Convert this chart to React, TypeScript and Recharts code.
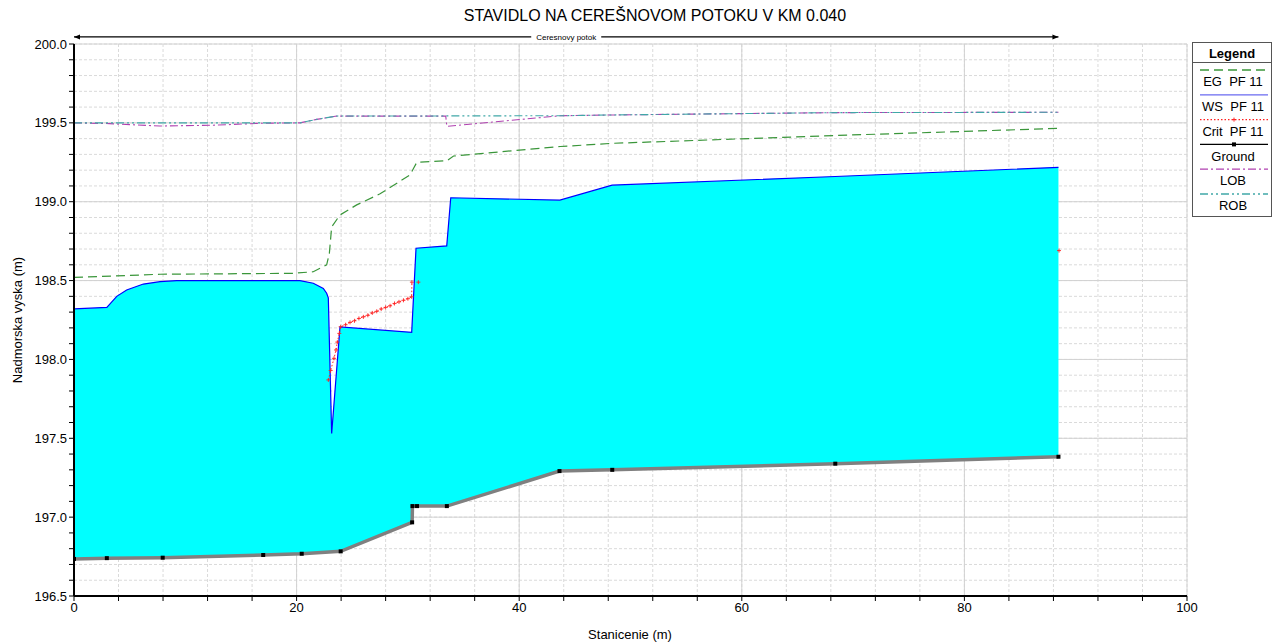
import React from 'react';
import {
  ComposedChart, Area, Line, XAxis, YAxis, CartesianGrid, ReferenceLine,
} from 'recharts';

// station (m), elevation (m)
const GROUND: [number, number][] = [
  [0, 196.735], [2.95, 196.74], [7.97, 196.743], [17.0, 196.76], [20.46, 196.768],
  [23.96, 196.783], [30.38, 196.967], [30.41, 197.07], [30.82, 197.07], [33.5, 197.07],
  [43.62, 197.292], [48.36, 197.3], [68.4, 197.339], [88.45, 197.383],
];

const WS: [number, number][] = [
  [0, 198.32], [2.95, 198.33], [3.84, 198.4], [4.73, 198.44], [6.23, 198.478], [7.73, 198.493],
  [9.23, 198.5], [20.3, 198.5], [21.5, 198.483], [22.4, 198.45], [22.7, 198.42], [22.85, 198.39],
  [23.15, 197.53], [23.9, 198.207], [30.34, 198.172], [30.73, 198.705], [33.49, 198.72],
  [33.85, 199.025], [43.65, 199.01], [48.35, 199.105], [68.4, 199.16], [88.45, 199.218],
];

// station, ground, water surface -> cyan wetted area
const FILL: [number, number, number][] = [
  [0, 196.735, 198.32], [2.95, 196.74, 198.33], [3.84, 196.74, 198.4], [4.73, 196.74, 198.44],
  [6.23, 196.742, 198.478], [7.73, 196.743, 198.493], [9.23, 196.745, 198.5], [17.0, 196.76, 198.5],
  [20.3, 196.768, 198.5], [21.5, 196.773, 198.483], [22.4, 196.776, 198.45], [22.7, 196.777, 198.42],
  [22.85, 196.778, 198.39], [23.15, 196.779, 197.53], [23.9, 196.782, 198.207], [23.96, 196.783, 198.206],
  [30.34, 196.96, 198.172], [30.38, 196.967, 198.226], [30.41, 197.07, 198.267], [30.73, 197.07, 198.705],
  [30.82, 197.07, 198.706], [33.49, 197.07, 198.72], [33.85, 197.078, 199.025], [43.65, 197.292, 199.01],
  [48.35, 197.3, 199.105], [68.4, 197.339, 199.16], [88.45, 197.383, 199.218],
];

const EG: [number, number][] = [
  [0, 198.52], [7.73, 198.54], [19.7, 198.546], [21.5, 198.556], [22.7, 198.6], [22.94, 198.67],
  [23.15, 198.84], [23.9, 198.916], [25.4, 198.98], [27.5, 199.05], [30.2, 199.17], [30.5, 199.21],
  [30.8, 199.25], [32.0, 199.254], [33.5, 199.26], [34.1, 199.29], [43.7, 199.35], [48.3, 199.37],
  [68.5, 199.42], [88.45, 199.465],
];

const CRIT: [number, number | null][] = [
  [22.85, 197.87], [23.06, 197.93], [23.36, 198.007], [23.54, 198.06], [23.66, 198.11], [23.84, 198.165],
  [23.96, 198.207], [24.4, 198.22], [24.8, 198.235], [25.2, 198.245], [25.6, 198.26], [26.0, 198.27],
  [26.4, 198.28], [26.8, 198.295], [27.2, 198.305], [27.6, 198.32], [28.0, 198.33], [28.4, 198.34],
  [28.8, 198.355], [29.2, 198.365], [29.6, 198.375], [30.0, 198.385], [30.34, 198.397], [30.36, 198.49],
  [30.6, null], [30.94, 198.49], [31.5, null], [88.5, 198.69],
];

const LOB: [number, number][] = [
  [0, 199.5], [3.2, 199.495], [7.7, 199.48], [12.5, 199.485], [16.7, 199.497], [20.3, 199.5],
  [21.8, 199.522], [23.6, 199.543], [33.4, 199.543], [33.5, 199.478], [43.7, 199.545],
  [48.3, 199.55], [68.5, 199.565], [88.45, 199.567],
];

const ROB: [number, number][] = [
  [0, 199.5], [20.3, 199.5], [21.8, 199.522], [23.6, 199.543], [43.7, 199.545],
  [48.3, 199.55], [68.5, 199.565], [88.45, 199.567],
];

const REACH = [0, 88.45];
const REACH_NAME = 'Ceresnovy potok';

const X_TICKS = [0, 4, 8, 12, 16, 20, 24, 28, 32, 36, 40, 44, 48, 52, 56, 60, 64, 68, 72, 76, 80, 84, 88, 92, 96, 100];
const X_LABELS = [0, 20, 40, 60, 80, 100];
const Y_TICKS = [
  196.5, 196.6, 196.7, 196.8, 196.9, 197.0, 197.1, 197.2, 197.3, 197.4, 197.5, 197.6, 197.7, 197.8,
  197.9, 198.0, 198.1, 198.2, 198.3, 198.4, 198.5, 198.6, 198.7, 198.8, 198.9, 199.0, 199.1, 199.2,
  199.3, 199.4, 199.5, 199.6, 199.7, 199.8, 199.9, 200.0,
];
const Y_LABELS = [196.5, 197.0, 197.5, 198.0, 198.5, 199.0, 199.5, 200.0];

const FONT = 'Arial, "Liberation Sans", sans-serif';
const C_EG = '#3a963a';
const C_WS = '#0000ff';
const C_CRIT = '#ff2020';
const C_LOB = '#b040b0';
const C_ROB = '#40a8a8';

const xy = (pts: [number, number | null][]) => pts.map(([x, y]) => ({ x, y }));
const fillRows = FILL.map(([x, g, ws]) => ({ x, g, ws }));

const SquareDot = (p: any) => {
  if (p.cx == null || p.cy == null) return <g key={p.index} />;
  return <rect key={p.index} x={p.cx - 2} y={p.cy - 2} width={4} height={4} fill="#000" />;
};

const PlusDot = (p: any) => {
  if (p.cx == null || p.cy == null || p.value == null) return <g key={p.index} />;
  return (
    <path key={p.index} d={`M${p.cx - 2},${p.cy}h4M${p.cx},${p.cy - 2}v4`} stroke={C_CRIT} strokeWidth={0.9} />
  );
};

const ReachArrow = (p: any) => {
  const { x1, y1, x2 } = p;
  const mid = (x1 + x2) / 2;
  return (
    <g>
      <line x1={x1} y1={y1} x2={x2} y2={y1} stroke="#000" strokeWidth={1.2} />
      <path d={`M${x1},${y1}l6,-2.5v5z`} fill="#000" />
      <path d={`M${x2},${y1}l-6,-2.5v5z`} fill="#000" />
      <rect x={mid - 35} y={y1 - 5} width={70} height={10} fill="#fff" />
      <text x={mid} y={y1 + 3} fontSize={8} textAnchor="middle" fontFamily={FONT} fill="#000">
        {REACH_NAME}
      </text>
    </g>
  );
};

const LEGEND = [
  { name: 'EG  PF 11', stroke: C_EG, dash: '9 5' },
  { name: 'WS  PF 11', stroke: '#6a6af0', dash: undefined },
  { name: 'Crit  PF 11', stroke: C_CRIT, dash: '1.5 2', marker: 'plus' },
  { name: 'Ground', stroke: '#000', dash: undefined, marker: 'square' },
  { name: 'LOB', stroke: C_LOB, dash: '8 3 2 3' },
  { name: 'ROB', stroke: C_ROB, dash: '8 3 2 3 2 3' },
];

const LegendBox = () => (
  <svg width={80} height={176} style={{ position: 'absolute', left: 1192, top: 42 }}>
    <rect x={0.5} y={0.5} width={79} height={174} fill="#fff" stroke="#555" />
    <text x={40} y={15.5} textAnchor="middle" fontSize={13} fontWeight="bold" fontFamily={FONT}>Legend</text>
    <line x1={0} y1={20.5} x2={80} y2={20.5} stroke="#555" />
    {LEGEND.map((e, i) => {
      const ly = 28 + i * 24.8;
      return (
        <g key={e.name}>
          <line x1={8} y1={ly} x2={76} y2={ly} stroke={e.stroke} strokeWidth={e.marker === 'square' ? 1.2 : 1.3} strokeDasharray={e.dash} />
          {e.marker === 'square' && <rect x={40} y={ly - 2} width={4} height={4} fill="#000" />}
          {e.marker === 'plus' && <path d={`M${40},${ly}h4M${42},${ly - 2}v4`} stroke={C_CRIT} />}
          <text x={41} y={ly + 16.2} textAnchor="middle" fontSize={13} fontFamily={FONT} style={{ whiteSpace: 'pre' }}>
            {e.name}
          </text>
        </g>
      );
    })}
  </svg>
);

export default function App() {
  const tickStyle = { fontSize: 13, fill: '#000', fontFamily: FONT };
  return (
    <div style={{ position: 'absolute', left: 0, top: 0, width: 1272, height: 643, background: '#fff', fontFamily: FONT }}>
      <div style={{ position: 'absolute', top: 7, left: 0, width: 1310, textAlign: 'center', fontSize: 16, lineHeight: '18px' }}>
        STAVIDLO NA CEREŠNOVOM POTOKU V KM 0.040
      </div>
      <ComposedChart width={1272} height={643} margin={{ top: 44, right: 85, left: 0, bottom: 0 }}>
        <CartesianGrid stroke="#dadada" strokeDasharray="3 2" horizontalValues={Y_TICKS} verticalValues={X_TICKS} />
        <CartesianGrid stroke="#d2d2d2" horizontalValues={Y_LABELS} verticalValues={X_LABELS} />
        <XAxis
          dataKey="x" type="number" domain={[0, 100]} ticks={X_TICKS} interval={0} allowDataOverflow
          height={47} tickSize={5} tickMargin={2} tick={tickStyle}
          tickFormatter={(v: number) => (X_LABELS.includes(v) ? String(v) : '')}
          axisLine={{ stroke: '#000', strokeWidth: 2 }} tickLine={{ stroke: '#000' }}
        />
        <XAxis
          xAxisId="top" orientation="top" dataKey="x" type="number" domain={[0, 100]} ticks={X_TICKS}
          interval={0} height={0} mirror tickSize={4} tickFormatter={() => ''}
          axisLine={{ stroke: '#000', strokeWidth: 2 }} tickLine={{ stroke: '#000' }}
        />
        <YAxis
          type="number" domain={[196.5, 200]} ticks={Y_TICKS} interval={0} allowDataOverflow
          width={74} tickSize={5} tickMargin={2} tick={tickStyle}
          tickFormatter={(v: number) => (Y_LABELS.includes(v) ? v.toFixed(1) : '')}
          axisLine={{ stroke: '#000', strokeWidth: 2 }} tickLine={{ stroke: '#000' }}
        />
        <YAxis
          yAxisId="right" orientation="right" type="number" domain={[196.5, 200]} width={0} mirror
          tick={false} tickLine={false} axisLine={{ stroke: '#000', strokeWidth: 2 }}
        />
        <Area
          data={fillRows} dataKey={(r: any) => [r.g, r.ws]} type="linear" fill="#00ffff" fillOpacity={1}
          stroke="none" isAnimationActive={false}
        />
        <Line data={xy(EG)} dataKey="y" type="linear" stroke={C_EG} strokeWidth={1.2} strokeDasharray="9 5" dot={false} isAnimationActive={false} />
        <Line data={xy(LOB)} dataKey="y" type="linear" stroke={C_LOB} strokeWidth={1.1} strokeDasharray="8 3 2 3" dot={false} isAnimationActive={false} />
        <Line data={xy(ROB)} dataKey="y" type="linear" stroke={C_ROB} strokeWidth={1.1} strokeDasharray="8 3 2 3 2 3" dot={false} isAnimationActive={false} />
        <Line data={xy(GROUND)} dataKey="y" type="linear" stroke="#808080" strokeWidth={3.5} dot={SquareDot} isAnimationActive={false} />
        <Line data={xy(WS)} dataKey="y" type="linear" stroke={C_WS} strokeWidth={1.2} dot={false} isAnimationActive={false} />
        <Line data={xy(CRIT)} dataKey="y" type="linear" stroke={C_CRIT} strokeWidth={1} strokeDasharray="1.5 2" dot={PlusDot} isAnimationActive={false} />
        <ReferenceLine
          ifOverflow="visible"
          segment={[{ x: REACH[0], y: 200.045 }, { x: REACH[1], y: 200.045 }]}
          shape={ReachArrow}
        />
      </ComposedChart>
      <div style={{ position: 'absolute', left: 17, top: 320, transform: 'translate(-50%, -50%) rotate(-90deg)', fontSize: 13, whiteSpace: 'nowrap' }}>
        Nadmorska vyska (m)
      </div>
      <div style={{ position: 'absolute', left: 630, top: 634, transform: 'translate(-50%, -50%)', fontSize: 13, whiteSpace: 'nowrap' }}>
        Stanicenie (m)
      </div>
      <LegendBox />
    </div>
  );
}
